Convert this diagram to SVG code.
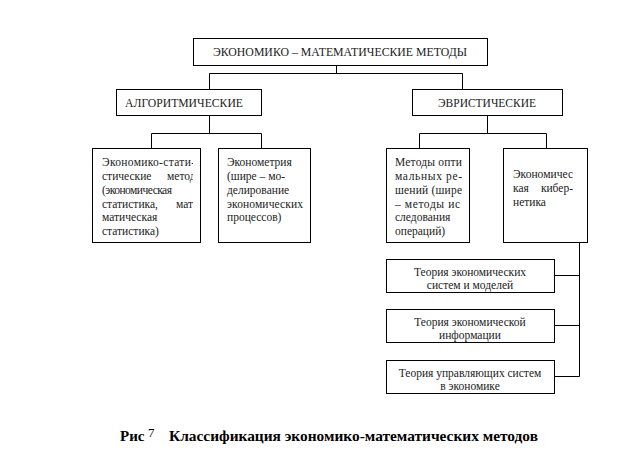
<svg xmlns="http://www.w3.org/2000/svg" width="641" height="460" viewBox="0 0 641 460">
<style>
  .box { fill: #fff; stroke: #000; stroke-width: 1; }
  .t { font-family: "Liberation Serif", "Times New Roman", serif; font-size: 11.5px; fill: #222; }
  .c { text-anchor: middle; }
  .cap { font-family: "Liberation Serif", "Times New Roman", serif; font-size: 15px; fill: #000; font-weight: bold; }
  .ln { fill: none; stroke: #000; stroke-width: 1; }
</style>
<defs>
  <clipPath id="clip1"><rect x="92" y="148" width="101" height="94"/></clipPath>
</defs>
<rect x="0" y="0" width="641" height="460" fill="#fff"/>

<g id="connectors">
  <polyline class="ln" points="336.5,65 336.5,73.5"/>
  <polyline class="ln" points="209.5,89 209.5,73.5 462.5,73.5 462.5,89"/>
  <polyline class="ln" points="209.5,115 209.5,133.5"/>
  <polyline class="ln" points="151.5,148 151.5,133.5 261.5,133.5 261.5,148"/>
  <polyline class="ln" points="487.5,115 487.5,133.5"/>
  <polyline class="ln" points="419.5,148 419.5,133.5 546.5,133.5 546.5,148"/>
  <polyline class="ln" points="579.5,242 579.5,376.5"/>
  <polyline class="ln" points="554,275.5 579.5,275.5"/>
  <polyline class="ln" points="554,325.5 579.5,325.5"/>
  <polyline class="ln" points="554,376.5 579.5,376.5"/>
</g>

<g id="root">
  <rect class="box" x="193.5" y="38.5" width="294" height="27"/>
  <text class="t" x="213" y="56" textLength="254" lengthAdjust="spacingAndGlyphs">ЭКОНОМИКО – МАТЕМАТИЧЕСКИЕ МЕТОДЫ</text>
</g>

<g id="alg">
  <rect class="box" x="116.5" y="89.5" width="145" height="26"/>
  <text class="t" x="125" y="107" textLength="118" lengthAdjust="spacingAndGlyphs">АЛГОРИТМИЧЕСКИЕ</text>
</g>

<g id="evr">
  <rect class="box" x="412.5" y="89.5" width="150" height="26"/>
  <text class="t" x="438" y="107" textLength="98" lengthAdjust="spacingAndGlyphs">ЭВРИСТИЧЕСКИЕ</text>
</g>

<g id="stat">
  <rect class="box" x="92.5" y="148.5" width="108" height="94"/>
  <g clip-path="url(#clip1)">
    <text class="t" x="102" y="166" textLength="93" lengthAdjust="spacing">Экономико-стати-</text>
    <text class="t" x="102" y="180">стические</text>
    <text class="t" x="167" y="180">методы</text>
    <text class="t" x="102" y="194" textLength="70" lengthAdjust="spacing">(экономическая</text>
    <text class="t" x="102" y="208">статистика,</text>
    <text class="t" x="176" y="208">мате-</text>
    <text class="t" x="102" y="221">матическая</text>
    <text class="t" x="102" y="235">статистика)</text>
  </g>
</g>

<g id="econometrics">
  <rect class="box" x="218.5" y="148.5" width="92" height="94"/>
  <text class="t" x="227" y="166">Эконометрия</text>
  <text class="t" x="227" y="180">(шире – мо-</text>
  <text class="t" x="227" y="194">делирование</text>
  <text class="t" x="227" y="208" textLength="76" lengthAdjust="spacing">экономических</text>
  <text class="t" x="227" y="221">процессов)</text>
</g>

<g id="optimal">
  <rect class="box" x="386.5" y="148.5" width="83" height="94"/>
  <text class="t" x="395" y="166" textLength="67" lengthAdjust="spacing">Методы опти</text>
  <text class="t" x="395" y="180" textLength="67" lengthAdjust="spacing">мальных ре-</text>
  <text class="t" x="395" y="194" textLength="67" lengthAdjust="spacing">шений (шире</text>
  <text class="t" x="395" y="208" textLength="65" lengthAdjust="spacing">– методы ис</text>
  <text class="t" x="395" y="221">следования</text>
  <text class="t" x="395" y="235">операций)</text>
</g>

<g id="cybernetics">
  <rect class="box" x="503.5" y="148.5" width="84" height="94"/>
  <text class="t" x="513" y="178" textLength="60" lengthAdjust="spacing">Экономичес</text>
  <text class="t" x="513" y="192">кая</text>
  <text class="t" x="573" y="192" text-anchor="end">кибер-</text>
  <text class="t" x="513" y="206">нетика</text>
</g>

<g id="theory1">
  <rect class="box" x="386.5" y="259.5" width="168" height="33"/>
  <text class="t c" x="470" y="276">Теория экономических</text>
  <text class="t c" x="470" y="289">систем и моделей</text>
</g>

<g id="theory2">
  <rect class="box" x="386.5" y="309.5" width="168" height="33"/>
  <text class="t c" x="470" y="326">Теория экономической</text>
  <text class="t c" x="470" y="339">информации</text>
</g>

<g id="theory3">
  <rect class="box" x="386.5" y="360.5" width="168" height="33"/>
  <text class="t c" x="470" y="377">Теория управляющих систем</text>
  <text class="t c" x="470" y="390">в экономике</text>
</g>

<g id="caption">
  <text class="cap" x="120" y="441">Рис</text>
  <text class="cap" x="148" y="437" style="font-weight:normal;font-size:13px">7</text>
  <text class="cap" x="169" y="441" textLength="369" lengthAdjust="spacingAndGlyphs">Классификация экономико-математических методов</text>
</g>
</svg>
